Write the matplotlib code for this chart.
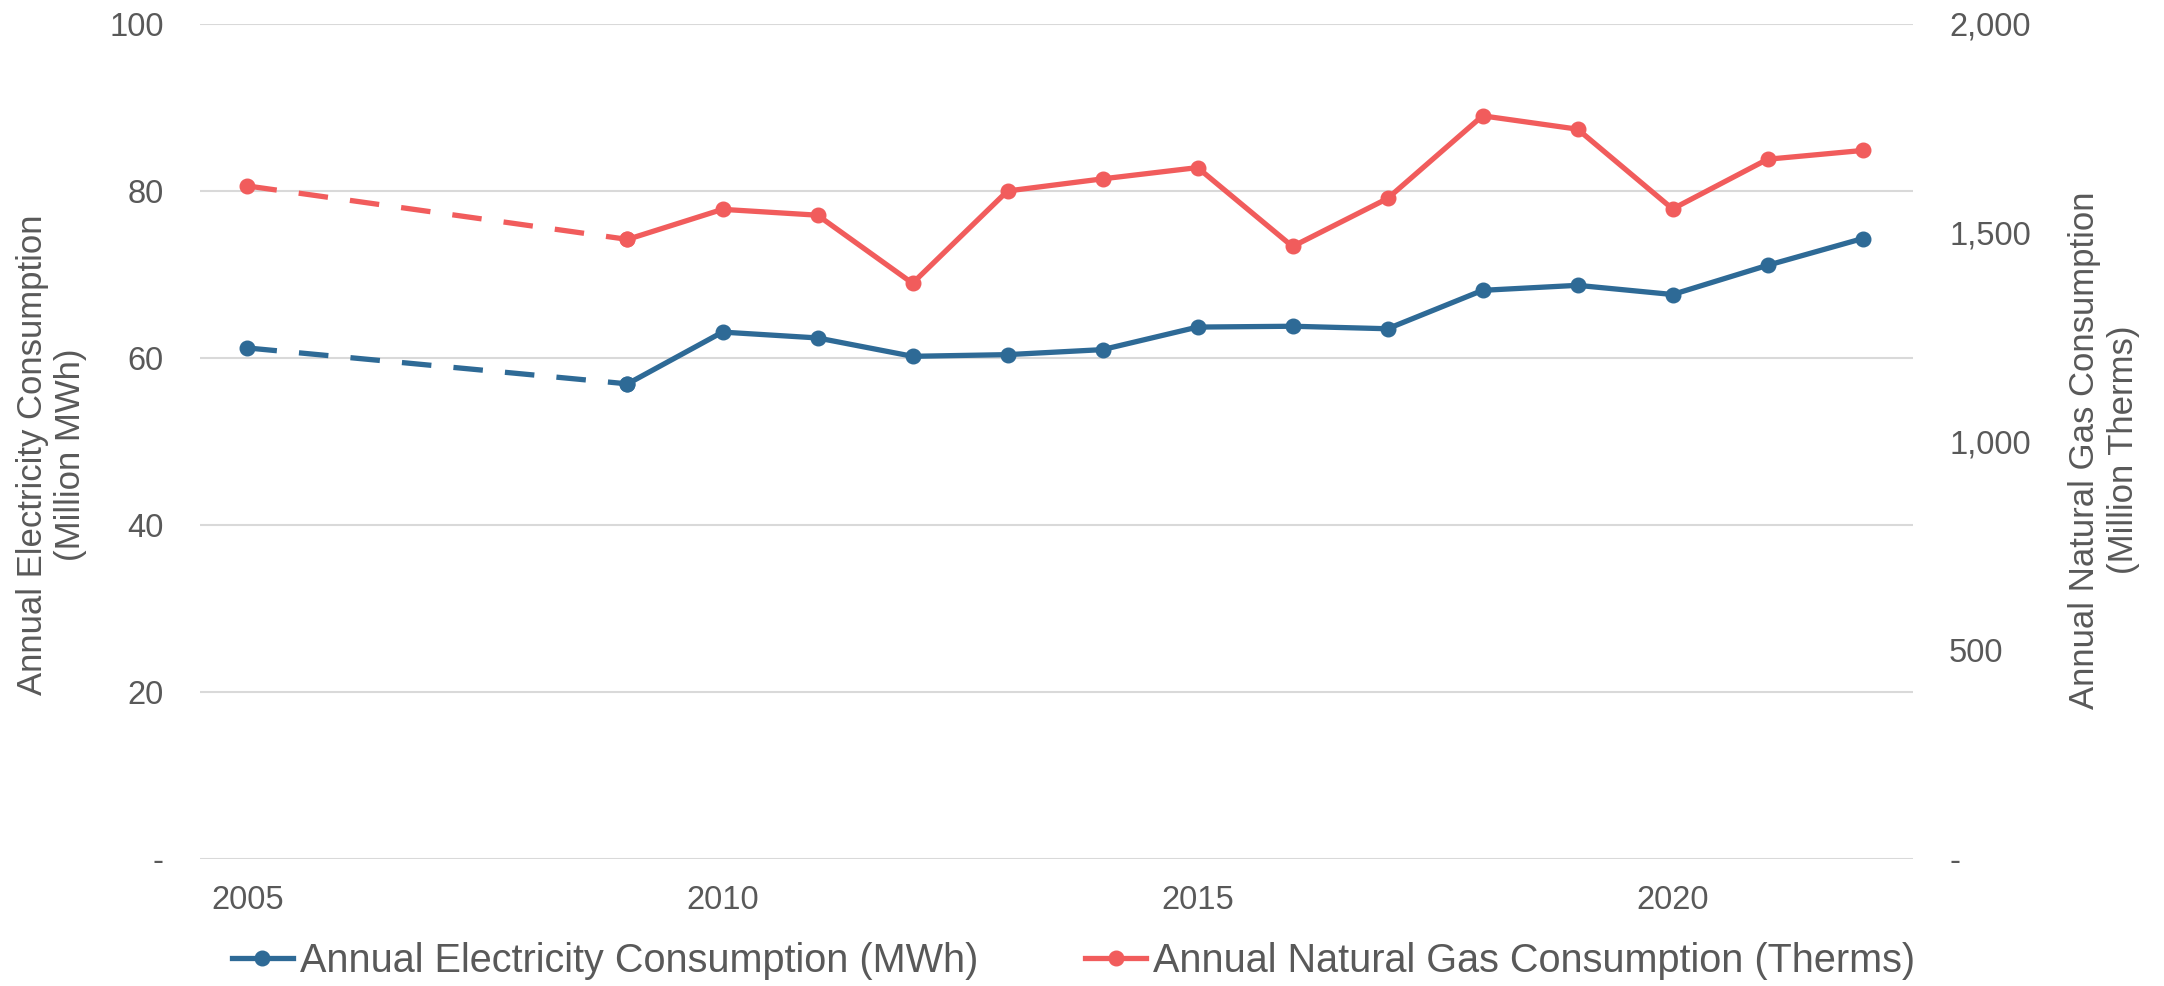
import matplotlib.pyplot as plt
from matplotlib.lines import Line2D
from matplotlib.ticker import FuncFormatter

plt.rcParams['font.family'] = ['Liberation Sans', 'DejaVu Sans']

years = [2005, 2009, 2010, 2011, 2012, 2013, 2014, 2015, 2016, 2017,
         2018, 2019, 2020, 2021, 2022]
electricity = [61.2, 56.9, 63.1, 62.4, 60.2, 60.4, 61.0, 63.7, 63.8, 63.5,
               68.1, 68.7, 67.6, 71.1, 74.3]
natural_gas = [1612, 1484, 1556, 1542, 1379, 1600, 1629, 1656, 1467, 1582,
               1780, 1748, 1557, 1676, 1697]
x_ticks = [2005, 2010, 2015, 2020]
left_ticks = [0, 20, 40, 60, 80, 100]
right_ticks = [0, 500, 1000, 1500, 2000]

BLUE = '#2e6a96'
RED = '#f15c5c'
GREY = '#595959'

fig = plt.figure(figsize=(21.64, 9.86), dpi=100)
ax = fig.add_axes([0.0924, 0.1288, 0.7916, 0.8469])
ax2 = ax.twinx()

lw = 3.8
ms = 10.5
dash = (5.6, 4.2)

# 2006-2008 missing -> dashed connector
ax.plot(years[:2], electricity[:2], color=BLUE, lw=lw, ls=(0, dash),
        marker='o', ms=ms, zorder=3)
ax.plot(years[1:], electricity[1:], color=BLUE, lw=lw, marker='o', ms=ms, zorder=3)
ax2.plot(years[:2], natural_gas[:2], color=RED, lw=lw, ls=(0, dash),
         marker='o', ms=ms, zorder=3)
ax2.plot(years[1:], natural_gas[1:], color=RED, lw=lw, marker='o', ms=ms, zorder=3)

ax.set_xlim(2004.5, 2022.53)
ax.set_ylim(0, 100)
ax2.set_ylim(0, 2000)
ax.set_xticks(x_ticks)
ax.set_yticks(left_ticks)
ax2.set_yticks(right_ticks)

fmt = FuncFormatter(lambda v, p: '-' if v == 0 else f'{v:,.0f}')
ax.yaxis.set_major_formatter(fmt)
ax2.yaxis.set_major_formatter(fmt)

ax.grid(axis='y', color='#d9d9d9', lw=1.5)
ax.set_axisbelow(True)
for a in (ax, ax2):
    for s in a.spines.values():
        s.set_visible(False)
    a.tick_params(length=0, labelsize=23.5, labelcolor=GREY)
ax.tick_params(axis='y', pad=26)
ax.tick_params(axis='x', pad=19)
ax2.tick_params(axis='y', pad=26)

ax.set_ylabel('Annual Electricity Consumption\n(Million MWh)', fontsize=25,
              color=GREY, labelpad=16)
ax2.set_ylabel('Annual Natural Gas Consumption\n(Million Therms)', fontsize=25,
               color=GREY, rotation=90, labelpad=27)
ax.yaxis.label.set_y(0.484)
ax2.yaxis.label.set_y(0.49)

handles = [Line2D([], [], color=BLUE, lw=lw, marker='o', ms=ms),
           Line2D([], [], color=RED, lw=lw, marker='o', ms=ms)]
fig.legend(handles, ['Annual Electricity Consumption (MWh)',
                     'Annual Natural Gas Consumption (Therms)'],
           loc='center', bbox_to_anchor=(0.496, 0.025), ncol=2, frameon=False,
           fontsize=28.5, labelcolor=GREY, handlelength=1.55, handletextpad=0.17,
           columnspacing=2.7)

fig.savefig('out.png', dpi=100, facecolor='white')
